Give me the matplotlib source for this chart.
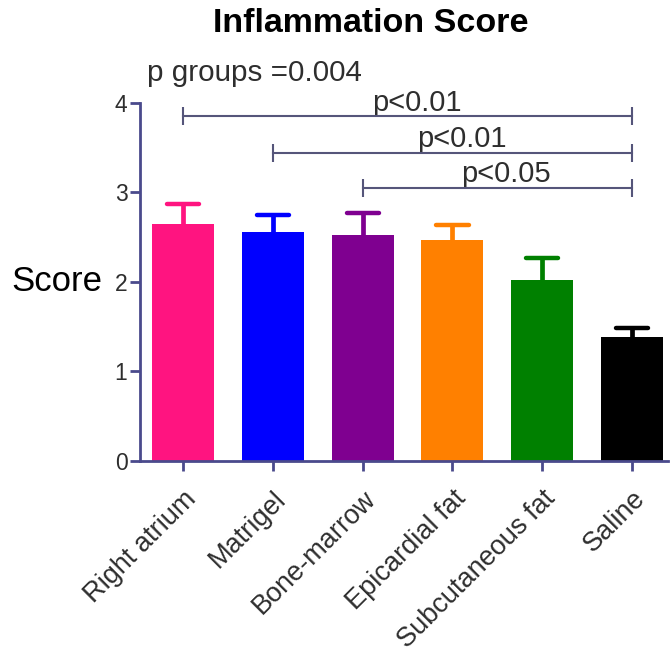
import matplotlib
matplotlib.use("Agg")
import matplotlib.pyplot as plt
from matplotlib.transforms import ScaledTranslation

# Group data
groups = ["Right atrium", "Matrigel", "Bone-marrow", "Epicardial fat",
          "Subcutaneous fat", "Saline"]
scores = [2.65, 2.55, 2.52, 2.47, 2.02, 1.38]
sem = [0.22, 0.19, 0.25, 0.16, 0.25, 0.10]
bar_colors = ["#FF1480", "#0000FF", "#7F0090", "#FF8000", "#008000", "#000000"]

# Pairwise comparisons against Saline: (first group, second group, label)
comparisons = [(0, 5, "p<0.01"), (1, 5, "p<0.01"), (2, 5, "p<0.05")]
comparison_levels = [3.85, 3.44, 3.05]
overall_p = "p groups =0.004"

plt.rcParams["font.family"] = ["Liberation Sans", "DejaVu Sans"]
axis_color = "#4a4a8c"
bracket_color = "#55557a"
text_color = "#2e2e2e"

fig = plt.figure(figsize=(6.72, 6.56), dpi=100)
ax = fig.add_axes([0.2083, 0.2977, 0.7857, 0.5457])

x = list(range(len(groups)))
ax.bar(x, scores, width=0.69, color=bar_colors, zorder=2)

# Upper-only error bars with rounded caps
cap_half = 0.18
for xi, s, e, c in zip(x, scores, sem, bar_colors):
    ax.plot([xi, xi], [s, s + e], color=c, lw=3.4, solid_capstyle="butt",
            zorder=3)
    ax.plot([xi - cap_half, xi + cap_half], [s + e, s + e], color=c, lw=3.2,
            solid_capstyle="round", zorder=3)

ax.set_xlim(-0.48, 5.40)
ax.set_ylim(0, 4)
ax.set_yticks([0, 1, 2, 3, 4])
ax.set_xticks(x)
ax.set_xticklabels(groups, rotation=45, ha="right", rotation_mode="anchor",
                   fontsize=19.5, color=text_color)
shift = ScaledTranslation(-0.045, -0.015, fig.dpi_scale_trans)
for lbl in ax.get_xticklabels():
    lbl.set_transform(lbl.get_transform() + shift)
for lbl in ax.get_yticklabels():
    lbl.set_fontsize(16.5)
    lbl.set_color(text_color)

for side in ("top", "right"):
    ax.spines[side].set_visible(False)
for side in ("left", "bottom"):
    ax.spines[side].set_color(axis_color)
    ax.spines[side].set_linewidth(2.0)
ax.tick_params(axis="both", colors=axis_color, width=2.0, length=7,
               labelcolor=text_color)
ax.tick_params(axis="x", pad=11)
ax.tick_params(axis="y", pad=2)

ax.set_ylabel("Score", rotation=0, ha="right", va="center", fontsize=25,
              color="black")
ax.yaxis.set_label_coords(-0.072, 0.5)

# Significance brackets
for (a, b, label), level in zip(comparisons, comparison_levels):
    ax.plot([a, b], [level, level], color=bracket_color, lw=1.5,
            clip_on=False, zorder=4)
    ax.plot([a, b], [level, level], linestyle="none", marker="|",
            markersize=13, markeredgewidth=1.5, color=bracket_color,
            clip_on=False, zorder=4)
    ax.annotate(label, xy=((a + b) / 2 + 0.1, level), xytext=(0, 4),
                textcoords="offset points", ha="center", va="baseline",
                fontsize=21, color=text_color, annotation_clip=False)

fig.text(0.552, 0.964, "Inflammation Score", ha="center", va="center",
         fontsize=24.5, fontweight="bold", color="black")
fig.text(0.219, 0.889, overall_p, ha="left", va="center", fontsize=21.3,
         color=text_color)

fig.savefig("out.png", dpi=100)
